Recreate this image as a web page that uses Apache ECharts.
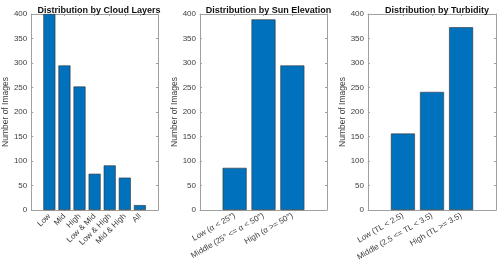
<!DOCTYPE html>
<html><head><meta charset="utf-8">
<script src="https://cdn.jsdelivr.net/npm/echarts@6/dist/echarts.min.js"></script>
<style>html,body{margin:0;padding:0;background:#fff}#c{width:500px;height:263px}</style>
</head><body><div id="c"></div>
<script>
const cloudCats = ['Low','Mid','High','Low & Mid','Low & High','Mid & High','All'];
const cloudVals = [400,295,252,74,91,66,10];
const sunCats = ['Low (\u03b1 < 25\u00b0)','Middle (25\u00b0 <= \u03b1 < 50\u00b0)','High (\u03b1 >= 50\u00b0)'];
const sunVals = [86,389,295];
const turbCats = ['Low (TL < 2.5)','Middle (2.5 <= TL < 3.5)','High (TL >= 3.5)'];
const turbVals = [156,241,373];
const titles = ['Distribution by Cloud Layers','Distribution by Sun Elevation','Distribution by Turbidity'];
const yTicks = [0,50,100,150,200,250,300,350,400];

const panels = [
  {cats: cloudCats, vals: cloudVals, left: 30, width: 128, rot: 45, bw: 12},
  {cats: sunCats, vals: sunVals, left: 200, width: 127, rot: 30, bw: 24},
  {cats: turbCats, vals: turbVals, left: 368, width: 128, rot: 30, bw: 24}
];
const FONT = 'Liberation Sans';
const AX = '#a0a0a0';
const TXT = '#404040';
const grid=[], xAxis=[], yAxis=[], series=[], title=[];
panels.forEach((p,i)=>{
  grid.push({left:p.left, width:p.width, top:14, bottom:53});
  const idx = p.cats.map((_,k)=>k);
  const mn = -1.2, mx = p.cats.length-1+1.2;
  xAxis.push({gridIndex:i, type:'value', min:mn, max:mx, position:'bottom',
    axisLine:{show:true, onZero:false, lineStyle:{color:AX, width:1}},
    axisTick:{show:true, inside:true, length:2, customValues: idx, lineStyle:{color:AX}},
    axisLabel:{customValues: idx, rotate:p.rot, margin:5, fontSize:8, color:TXT, fontFamily:FONT,
      formatter: v => p.cats[Math.round(v)]},
    splitLine:{show:false}});
  xAxis.push({gridIndex:i, type:'value', min:mn, max:mx, position:'top',
    axisLine:{show:true, onZero:false, lineStyle:{color:AX, width:1}},
    axisTick:{show:true, inside:true, length:2, customValues: idx, lineStyle:{color:AX}},
    axisLabel:{show:false}, splitLine:{show:false}});
  yAxis.push({gridIndex:i, type:'value', min:0, max:400, interval:50, position:'left',
    name:'Number of Images', nameLocation:'middle', nameGap:20,
    nameTextStyle:{fontSize:8.5, color:TXT, fontFamily:FONT},
    axisLine:{show:true, onZero:false, lineStyle:{color:AX}},
    axisTick:{show:true, inside:true, length:2, lineStyle:{color:AX}},
    axisLabel:{fontSize:8, color:TXT, fontFamily:FONT, margin:4,
      formatter: v => yTicks.includes(v) ? String(v) : ''},
    splitLine:{show:false}});
  yAxis.push({gridIndex:i, type:'value', min:0, max:400, interval:50, position:'right',
    axisLine:{show:true, onZero:false, lineStyle:{color:AX}},
    axisTick:{show:true, inside:true, length:2, lineStyle:{color:AX}},
    axisLabel:{show:false}, splitLine:{show:false}});
  series.push({type:'bar', xAxisIndex:2*i, yAxisIndex:2*i,
    data: p.vals.map((v,k)=>[k,v]), barWidth:p.bw,
    itemStyle:{color:'#0072BD', borderColor:'#333', borderWidth:0.6},
    silent:true, animation:false});
  title.push({text:titles[i], left:p.left+p.width/2, top:1, textAlign:'center',
    textStyle:{fontSize:9, fontWeight:'bold', color:'#111', fontFamily:FONT}});
});
const chart = echarts.init(document.getElementById('c'), null, {renderer:'canvas'});
chart.setOption({animation:false, title, grid, xAxis, yAxis, series});
</script></body></html>
